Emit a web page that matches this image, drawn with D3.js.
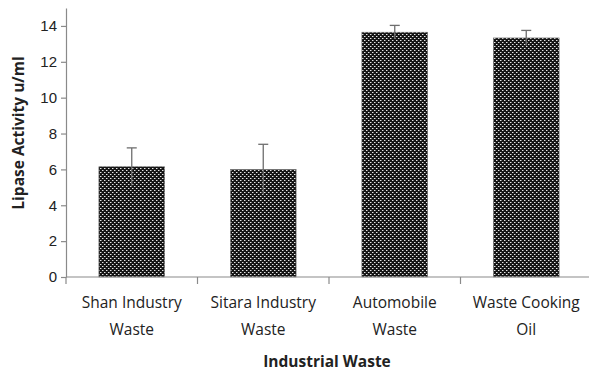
<!DOCTYPE html>
<html>
<head>
<meta charset="utf-8">
<script src="https://cdn.jsdelivr.net/npm/d3@7"></script>
<style>
  html, body { margin: 0; padding: 0; background: #fff; }
  svg { display: block; font-family: "Open Sans", "Noto Sans", sans-serif; }
</style>
</head>
<body>
<svg id="chart" width="589" height="373"></svg>
<script>
// Lipase activity by waste source
const categories = [
  ["Shan Industry", "Waste"],
  ["Sitara Industry", "Waste"],
  ["Automobile", "Waste"],
  ["Waste Cooking", "Oil"]
];
const values = [6.15, 6.0, 13.65, 13.33];
const errors = [1.05, 1.4, 0.38, 0.42];
const yTicks = [0, 2, 4, 6, 8, 10, 12, 14];

const svg = d3.select("#chart");
const axisColor = "#8a8a8a";
const textColor = "#222";

const x0 = 66, x1 = 592, yBase = 277, yTop = 8;

const x = d3.scaleBand()
  .domain(d3.range(categories.length))
  .range([x0, x1])
  .paddingInner(0.5)
  .paddingOuter(0.25);

const y = d3.scaleLinear().domain([0, 15]).range([yBase, yTop]);

// Dotted cross-hatch fill
const defs = svg.append("defs");
const pat = defs.append("pattern")
  .attr("id", "dots")
  .attr("patternUnits", "userSpaceOnUse")
  .attr("width", 4).attr("height", 4);
pat.append("rect").attr("width", 4).attr("height", 4).attr("fill", "#161616");
pat.append("rect").attr("x", 0).attr("y", 0).attr("width", 1).attr("height", 1).attr("fill", "#e6e6e6");
pat.append("rect").attr("x", 2).attr("y", 2).attr("width", 1).attr("height", 1).attr("fill", "#e6e6e6");
pat.append("rect").attr("x", 1).attr("y", 0).attr("width", 1).attr("height", 1).attr("fill", "#777");
pat.append("rect").attr("x", 3).attr("y", 2).attr("width", 1).attr("height", 1).attr("fill", "#777");

// Bars
svg.append("g").selectAll("rect")
  .data(values)
  .join("rect")
  .attr("x", (d, i) => x(i))
  .attr("y", d => y(d))
  .attr("width", x.bandwidth())
  .attr("height", d => y(0) - y(d))
  .attr("fill", "url(#dots)")
  .attr("stroke", "#777")
  .attr("stroke-width", 0.6);

// Error bars
const eb = svg.append("g").attr("stroke", "#6e6e6e").attr("stroke-width", 1.3).attr("fill", "none");
values.forEach((v, i) => {
  const cx = x(i) + x.bandwidth() / 2;
  eb.append("line").attr("x1", cx).attr("x2", cx).attr("y1", y(v - errors[i])).attr("y2", y(v + errors[i]));
  eb.append("line").attr("x1", cx - 5).attr("x2", cx + 5).attr("y1", y(v + errors[i])).attr("y2", y(v + errors[i]));
});

// Y axis
const yAxis = svg.append("g")
  .attr("transform", `translate(${x0},0)`)
  .call(d3.axisLeft(y).tickValues(yTicks).tickSize(5).tickSizeOuter(0));
yAxis.select(".domain").attr("stroke", axisColor).attr("stroke-width", 1.2);
yAxis.selectAll(".tick line").attr("stroke", axisColor).attr("stroke-width", 1.2);
yAxis.selectAll(".tick text")
  .attr("x", -9)
  .attr("fill", textColor)
  .style("font-size", "15px");

// X axis line with boundary ticks
const xg = svg.append("g");
xg.append("line").attr("x1", x0).attr("x2", x1).attr("y1", yBase).attr("y2", yBase)
  .attr("stroke", axisColor).attr("stroke-width", 1.2);
const bounds = d3.range(categories.length + 1).map(i => x0 + i * (x1 - x0) / categories.length);
xg.selectAll("line.tk").data(bounds).join("line").attr("class", "tk")
  .attr("x1", d => d).attr("x2", d => d)
  .attr("y1", yBase).attr("y2", yBase + 7)
  .attr("stroke", axisColor).attr("stroke-width", 1.2);

// Category labels
const lab = xg.selectAll("text.cat").data(categories).join("text").attr("class", "cat")
  .attr("text-anchor", "middle")
  .attr("fill", textColor)
  .style("font-size", "15.5px");
lab.each(function(d, i) {
  const cx = x(i) + x.bandwidth() / 2;
  d3.select(this).selectAll("tspan").data(d).join("tspan")
    .attr("x", cx)
    .attr("y", (t, j) => 308 + j * 27)
    .text(t => t);
});

// Axis titles
svg.append("text")
  .attr("x", 327).attr("y", 367)
  .attr("text-anchor", "middle")
  .attr("fill", textColor)
  .style("font-size", "15.5px").style("font-weight", "bold")
  .text("Industrial Waste");

svg.append("text")
  .attr("transform", `translate(24,133) rotate(-90)`)
  .attr("text-anchor", "middle")
  .attr("fill", textColor)
  .style("font-size", "15.5px").style("font-weight", "bold")
  .text("Lipase Activity u/ml");
</script>
</body>
</html>
